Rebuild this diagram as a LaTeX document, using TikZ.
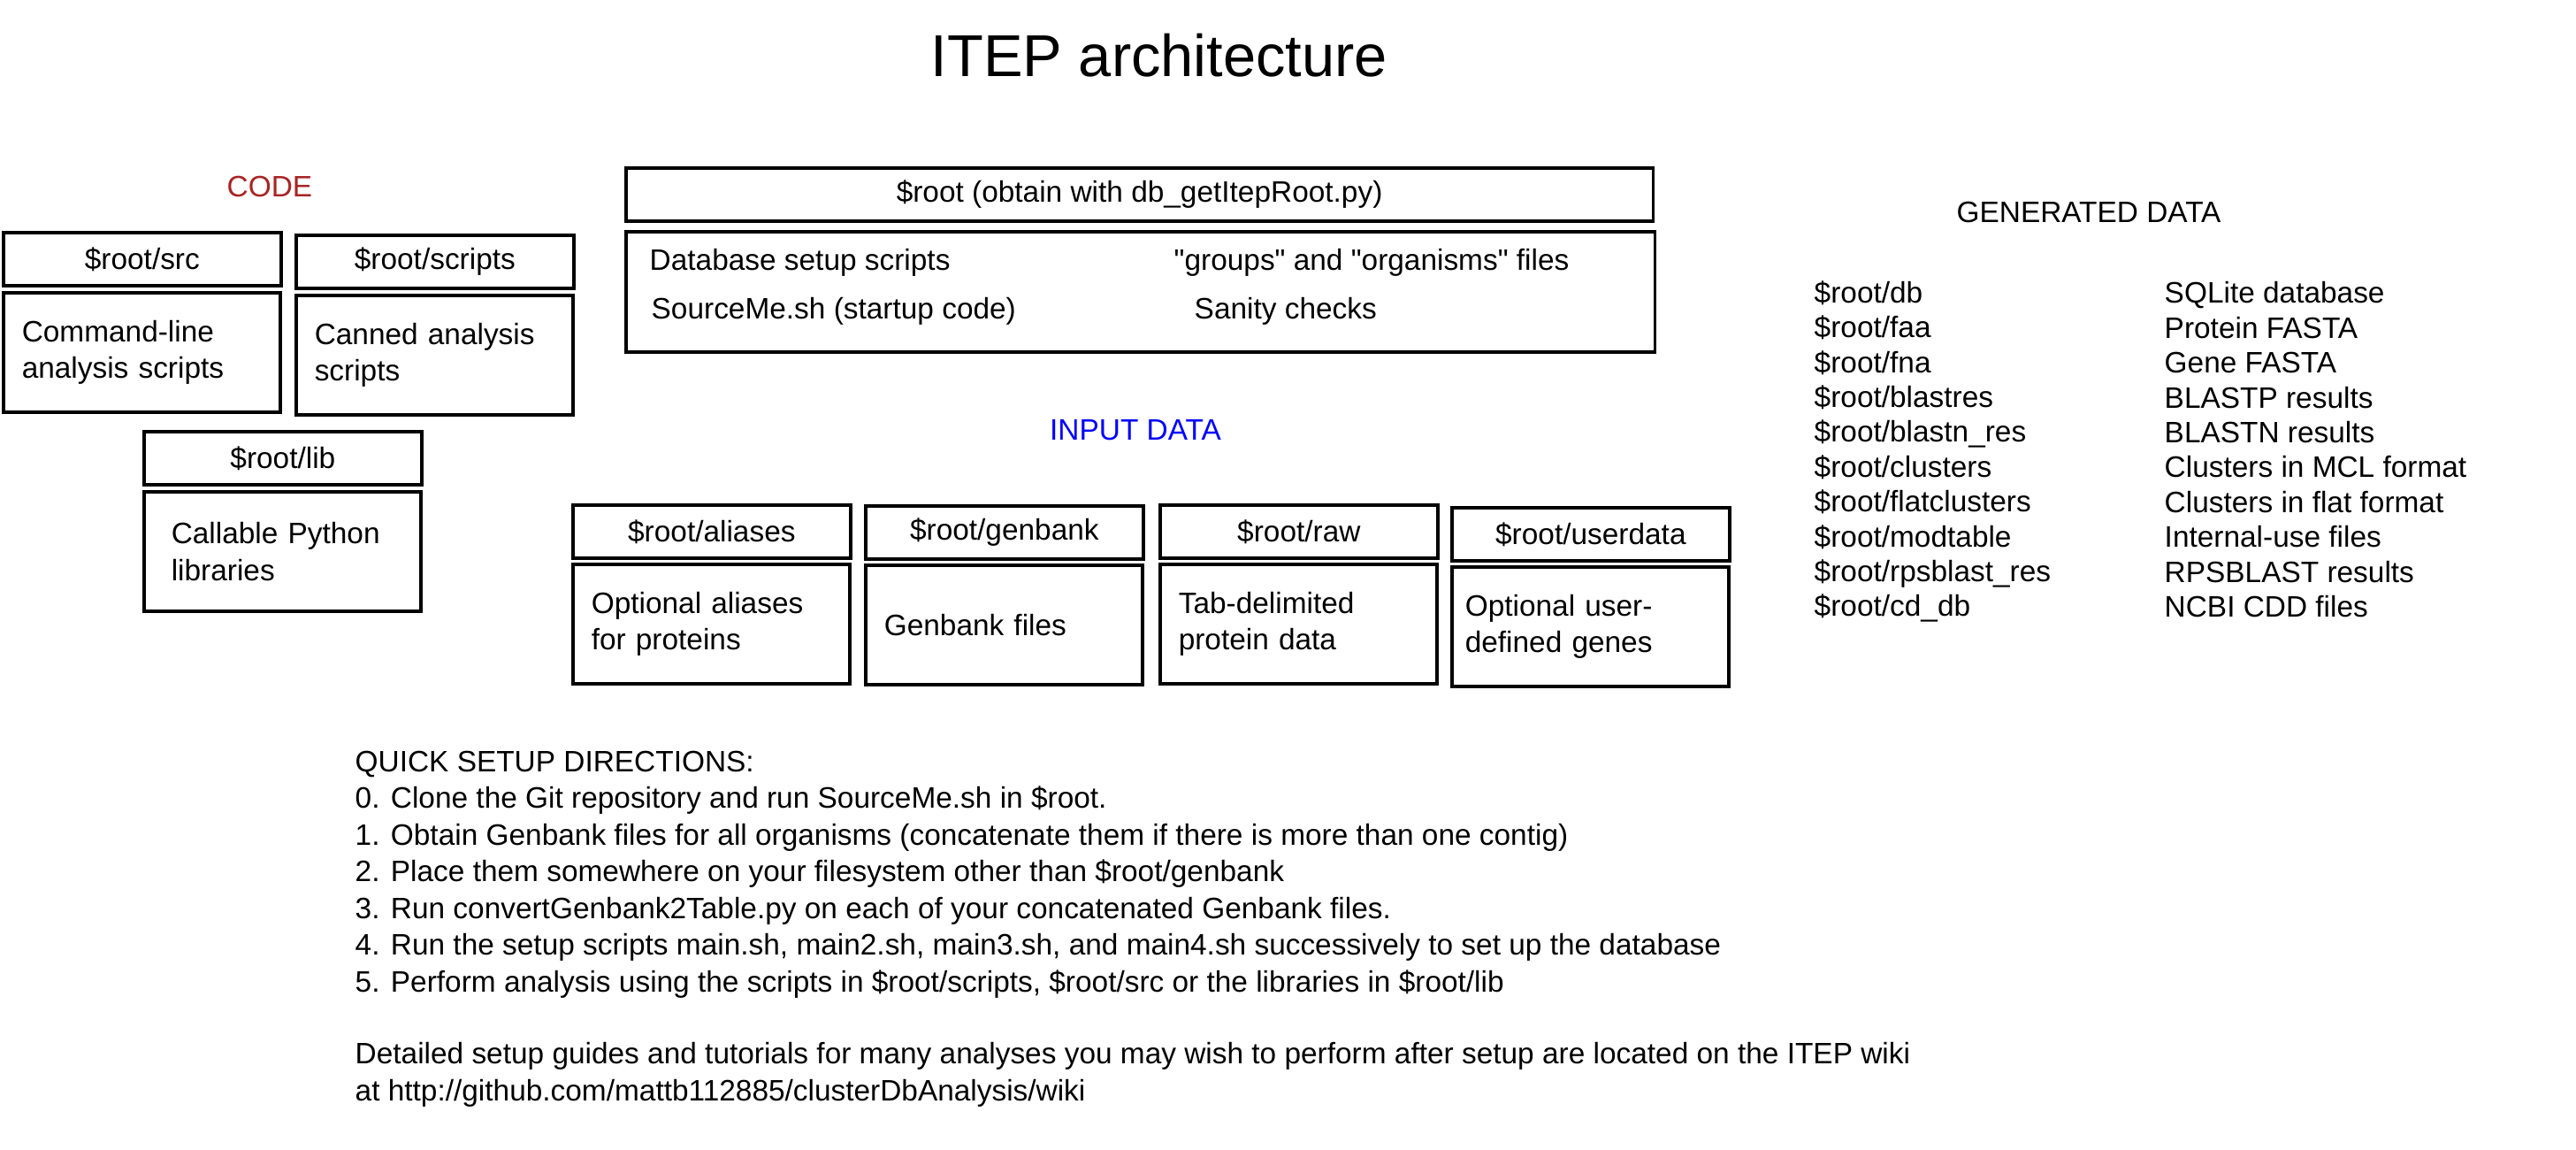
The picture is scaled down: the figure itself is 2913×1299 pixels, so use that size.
\documentclass[tikz,border=0pt]{standalone}
\usepackage{fontspec}
\setmainfont{Liberation Sans}
\usetikzlibrary{shapes, arrows, positioning}
\definecolor{codered}{RGB}{168,36,36}
\definecolor{inputblue}{RGB}{0,0,255}

\begin{document}
\begin{tikzpicture}[x=0.01cm, y=-0.01cm, font=\fontsize{9.5}{11.8}\selectfont]

\tikzstyle{head} = [rectangle, draw, line width=1pt, minimum width=3.14cm, minimum height=0.60cm, inner sep=0pt]
\tikzstyle{body} = [rectangle, draw, line width=1pt, minimum height=1.35cm, inner xsep=0.21cm, text width=2.71cm, align=left]
\tikzstyle{txt} = [inner sep=0pt]

\useasboundingbox (0,0) rectangle (2913,1299);

% Title
\node[font=\fontsize{19}{23}\selectfont] (title) at (1311,63) {ITEP architecture};

% Code
\node[txt, text=codered] (code) at (305,211) {CODE};
\node[head, anchor=north west] (srchead) at (2,261) {\$root/src};
\node[body, below=0.045cm of srchead.south west, anchor=north west] (srcbody) {Command-line\\analysis scripts};
\node[head, anchor=north west] (scrhead) at (333,264) {\$root/scripts};
\node[body, below=0.045cm of scrhead.south west, anchor=north west] (scrbody) {Canned analysis\\scripts};
\node[head, anchor=north west] (libhead) at (161,486) {\$root/lib};
\node[body, inner xsep=0.31cm, text width=2.51cm, below=0.045cm of libhead.south west, anchor=north west] (libbody) {Callable Python\\libraries};

% Root
\node[head, minimum width=11.61cm, anchor=north west] (roothead) at (706,188) {\$root (obtain with db\_getItepRoot.py)};
\node[rectangle, draw, line width=1pt, minimum width=11.63cm, minimum height=1.36cm, below=0.085cm of roothead.south west, anchor=north west] (rootbody) {};
\node[txt, anchor=west] (dbsetup) at (734,297) {Database setup scripts};
\node[txt, anchor=west] (sourceme) at (736,352) {SourceMe.sh (startup code)};
\node[txt, anchor=west] (groups) at (1327,297) {\textquotedbl groups\textquotedbl{} and \textquotedbl organisms\textquotedbl{} files};
\node[txt, anchor=west] (sanity) at (1350,352) {Sanity checks};

% Input data
\node[txt, text=inputblue] (input) at (1284,486) {INPUT DATA};
\node[head, anchor=north west] (aliashead) at (646,569) {\$root/aliases};
\node[body, below=0.035cm of aliashead.south west, anchor=north west] (aliasbody) {Optional aliases\\for proteins};
\node[head, anchor=north west] (gbhead) at (977,570) {\$root/genbank};
\node[body, below=0.035cm of gbhead.south west, anchor=north west] (gbbody) {Genbank files};
\node[head, anchor=north west] (rawhead) at (1310,569) {\$root/raw};
\node[body, below=0.035cm of rawhead.south west, anchor=north west] (rawbody) {Tab-delimited\\protein data};
\node[head, anchor=north west] (udhead) at (1640,572) {\$root/userdata};
\node[body, inner xsep=0.15cm, text width=2.83cm, below=0.035cm of udhead.south west, anchor=north west] (udbody) {Optional user-\\defined genes};

% Generated data
\node[txt] (gen) at (2362,240) {GENERATED DATA};
\node[txt, anchor=north west, align=left, font=\fontsize{9.5}{11.2}\selectfont] (gendirs) at (2051,317) {\$root/db\\\$root/faa\\\$root/fna\\\$root/blastres\\\$root/blastn\_res\\\$root/clusters\\\$root/flatclusters\\\$root/modtable\\\$root/rpsblast\_res\\\$root/cd\_db};
\node[txt, anchor=north west, align=left, font=\fontsize{9.5}{11.2}\selectfont] (gendesc) at (2447,318) {SQLite database\\Protein FASTA\\Gene FASTA\\BLASTP results\\BLASTN results\\Clusters in MCL format\\Clusters in flat format\\Internal-use files\\RPSBLAST results\\NCBI CDD files};

% Directions
\node[txt, anchor=north west, align=left] (quick) at (401,848) {QUICK SETUP DIRECTIONS:\\0. Clone the Git repository and run SourceMe.sh in \$root.\\1. Obtain Genbank files for all organisms (concatenate them if there is more than one contig)\\2. Place them somewhere on your filesystem other than \$root/genbank\\3. Run convertGenbank2Table.py on each of your concatenated Genbank files.\\4. Run the setup scripts main.sh, main2.sh, main3.sh, and main4.sh successively to set up the database\\5. Perform analysis using the scripts in \$root/scripts, \$root/src or the libraries in \$root/lib};
\node[txt, anchor=north west, align=left] (wiki) at (401,1178) {Detailed setup guides and tutorials for many analyses you may wish to perform after setup are located on the ITEP wiki\\at http://github.com/mattb112885/clusterDbAnalysis/wiki};

\end{tikzpicture}
\end{document}
